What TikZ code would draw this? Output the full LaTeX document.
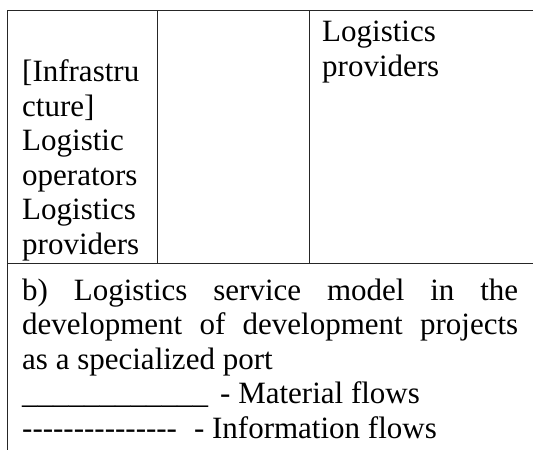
\documentclass[tikz,border=0pt]{standalone}
\usepackage{fontspec}
\setmainfont{Liberation Serif}
\newcommand{\solidrow}{\foreach \k in {1,...,12}{\_}}
\newcommand{\dashrow}{\foreach \k in {1,...,15}{-}}
\tikzset{
  celltext/.style={inner sep=0pt, align=left, font=\fontsize{31}{34.5}\selectfont},
  rule/.style={line width=0.9pt, black!85}
}
\begin{document}
\begin{tikzpicture}[x=1pt, y=-1pt]
    \useasboundingbox (0,0) rectangle (533,450);

    % Table rules
    \draw[rule] (7,10) -- (533,10);
    \draw[rule] (7,10) -- (7,450);
    \draw[rule] (157,10) -- (157,263);
    \draw[rule] (309,10) -- (309,263);
    \draw[rule] (7,263) -- (533,263);

    % Upper row
    \node[celltext, anchor=south west] (infra) at (22,261)
        {[Infrastru\\cture]\\Logistic\\operators\\Logistics\\providers};
    \node[celltext, anchor=north west] (providers) at (322,21)
        {Logistics\\providers};

    % Lower row
    \node[celltext, anchor=north west, text width=496pt, align=justify] (model) at (22,278.5)
        {b) Logistics service model in the\linebreak
         development of development projects\linebreak
         as a specialized port\\
         \solidrow\hspace{12pt}- Material flows\\
         \dashrow\hspace{17pt}- Information flows};

\end{tikzpicture}
\end{document}
